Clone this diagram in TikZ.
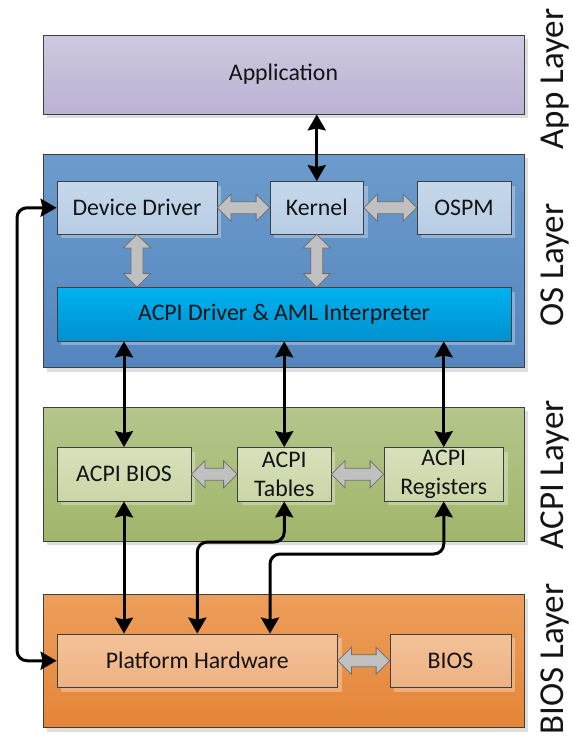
\documentclass[tikz,border=0pt]{standalone}
\usepackage{fontspec}
\setmainfont{Carlito}
\usetikzlibrary{arrows.meta,calc,shadows}

\definecolor{edge}{HTML}{3F3F3F}
\definecolor{txt}{HTML}{141414}
\definecolor{apptop}{HTML}{CFC9E0}
\definecolor{appbot}{HTML}{BCB1D3}
\definecolor{ostop}{HTML}{6C9CCC}
\definecolor{osbot}{HTML}{5485BE}
\definecolor{osintop}{HTML}{C6D8EB}
\definecolor{osinbot}{HTML}{B7CCE3}
\definecolor{drvtop}{HTML}{00B2F1}
\definecolor{drvbot}{HTML}{0090CF}
\definecolor{acpitop}{HTML}{B4C68B}
\definecolor{acpibot}{HTML}{A1B66B}
\definecolor{acpiintop}{HTML}{D7E1BB}
\definecolor{acpiinbot}{HTML}{CAD6A7}
\definecolor{biostop}{HTML}{ED9E5A}
\definecolor{biosbot}{HTML}{E48538}
\definecolor{biosintop}{HTML}{F4C298}
\definecolor{biosinbot}{HTML}{EDB283}
\definecolor{garrow}{HTML}{C0C0C0}
\definecolor{garrowedge}{HTML}{6E6E6E}

\tikzset{
  layer/.style={draw=edge, line width=0.8pt, inner sep=0pt,
    drop shadow={shadow xshift=4pt, shadow yshift=-4pt, fill=black, opacity=0.13}},
  unit/.style={draw=edge, line width=0.8pt, inner sep=0pt, align=center,
    text=txt, font=\fontsize{23.8}{29}\selectfont,
    drop shadow={shadow xshift=4pt, shadow yshift=-4pt, fill=white, opacity=0.3}},
  link/.style={line width=3pt, rounded corners=10pt,
    {Stealth[length=16pt,width=18pt,inset=2pt]}-{Stealth[length=16pt,width=18pt,inset=2pt]}},
  grayarrow/.style={fill=garrow, draw=garrowedge, line width=0.8pt, line join=miter},
  layerlabel/.style={rotate=90, anchor=base, text=txt, font=\fontsize{35}{40}\selectfont}
}

% broad grey two-headed arrow between two boxes side by side
\newcommand\hgray[2]{%
  \draw[grayarrow] let \p1=(#1.east), \p2=(#2.west) in
    (\x1,\y1) -- (\x1+13.5pt,\y1+13.5pt) -- (\x1+13.5pt,\y1+6pt)
    -- (\x2-13.5pt,\y1+6pt) -- (\x2-13.5pt,\y1+13.5pt) -- (\x2,\y1)
    -- (\x2-13.5pt,\y1-13.5pt) -- (\x2-13.5pt,\y1-6pt)
    -- (\x1+13.5pt,\y1-6pt) -- (\x1+13.5pt,\y1-13.5pt) -- cycle;}
% broad grey two-headed arrow from a box down to a named point
\newcommand\vgray[2]{%
  \draw[grayarrow] let \p1=(#1.south), \p2=(#2) in
    (\x1,\y1) -- (\x1+13.5pt,\y1-13.5pt) -- (\x1+6pt,\y1-13.5pt)
    -- (\x1+6pt,\y2+13.5pt) -- (\x1+13.5pt,\y2+13.5pt) -- (\x1,\y2)
    -- (\x1-13.5pt,\y2+13.5pt) -- (\x1-6pt,\y2+13.5pt)
    -- (\x1-6pt,\y1-13.5pt) -- (\x1-13.5pt,\y1-13.5pt) -- cycle;}

\begin{document}
\begin{tikzpicture}[x=1pt,y=-1pt]
\useasboundingbox (0,0) rectangle (571,736);

% layers
\node[layer, top color=apptop, bottom color=appbot, minimum width=481pt, minimum height=79pt,
  text=txt, font=\fontsize{23.8}{29}\selectfont] (app) at (283.5,74.5) {Application};
\node[layer, top color=ostop, bottom color=osbot, minimum width=481pt, minimum height=213.5pt] (os) at (283.5,260.75) {};
\node[layer, top color=acpitop, bottom color=acpibot, minimum width=481pt, minimum height=134pt] (acpi) at (283.5,474) {};
\node[layer, top color=biostop, bottom color=biosbot, minimum width=481pt, minimum height=133pt] (bios) at (283.5,661) {};

% layer captions
\node[layerlabel] (lapp) at (563,79) {App Layer};
\node[layerlabel] (los) at (563,265) {OS Layer};
\node[layerlabel] (lacpi) at (563,475) {ACPI Layer};
\node[layerlabel] (lbios) at (563,659) {BIOS Layer};

% OS layer
\node[unit, top color=osintop, bottom color=osinbot, minimum width=160pt, minimum height=52.5pt] (dd) at (137,207.75) {Device Driver};
\node[unit, top color=osintop, bottom color=osinbot, minimum width=93.5pt, minimum height=52.5pt] (kern) at (316.75,207.75) {Kernel};
\node[unit, top color=osintop, bottom color=osinbot, minimum width=94pt, minimum height=52.5pt] (ospm) at (464,207.75) {OSPM};
\node[unit, top color=drvtop, bottom color=drvbot, minimum width=454pt, minimum height=53.5pt] (drv) at (284,314.25) {ACPI Driver \& AML Interpreter};

% ACPI layer
\node[unit, top color=acpiintop, bottom color=acpiinbot, minimum width=134pt, minimum height=53.5pt] (ab) at (124,474.25) {ACPI BIOS};
\node[unit, top color=acpiintop, bottom color=acpiinbot, minimum width=93.5pt, minimum height=53.5pt] (tab) at (284.25,474.25) {ACPI\\Tables};
\node[unit, top color=acpiintop, bottom color=acpiinbot, minimum width=119.5pt, minimum height=53.5pt] (reg) at (443.75,474.25) {ACPI\\Registers};

% BIOS layer
\node[unit, top color=biosintop, bottom color=biosinbot, minimum width=280.5pt, minimum height=53.5pt] (ph) at (197.25,660.75) {Platform Hardware};
\node[unit, top color=biosintop, bottom color=biosinbot, minimum width=121pt, minimum height=53.5pt] (bs) at (450.5,660.75) {BIOS};

% grey links inside the layers
\coordinate (ddfoot) at (dd.south |- drv.north);
\coordinate (kernfoot) at (kern.south |- drv.north);
\hgray{dd}{kern}
\hgray{kern}{ospm}
\vgray{dd}{ddfoot}
\vgray{kern}{kernfoot}
\hgray{ab}{tab}
\hgray{tab}{reg}
\hgray{ph}{bs}

% black links between layers
\draw[link] (kern.north) -- (kern.north |- app.south);
\draw[link] (ab.north) -- (ab.north |- drv.south);
\draw[link] (tab.north) -- (tab.north |- drv.south);
\draw[link] (reg.north) -- (reg.north |- drv.south);
\draw[link] (ab.south) -- (ab.south |- ph.north);

\coordinate (tbend) at (197.3,542);
\coordinate (rbend) at (270,554);
\coordinate (loop) at (17,0);
\draw[link] (tab.south) |- (tbend) -- (tbend |- ph.north);
\draw[link] (reg.south) |- (rbend) -- (rbend |- ph.north);
\draw[link] (dd.west) -| (loop |- ph.west) -- (ph.west);
\end{tikzpicture}
\end{document}
